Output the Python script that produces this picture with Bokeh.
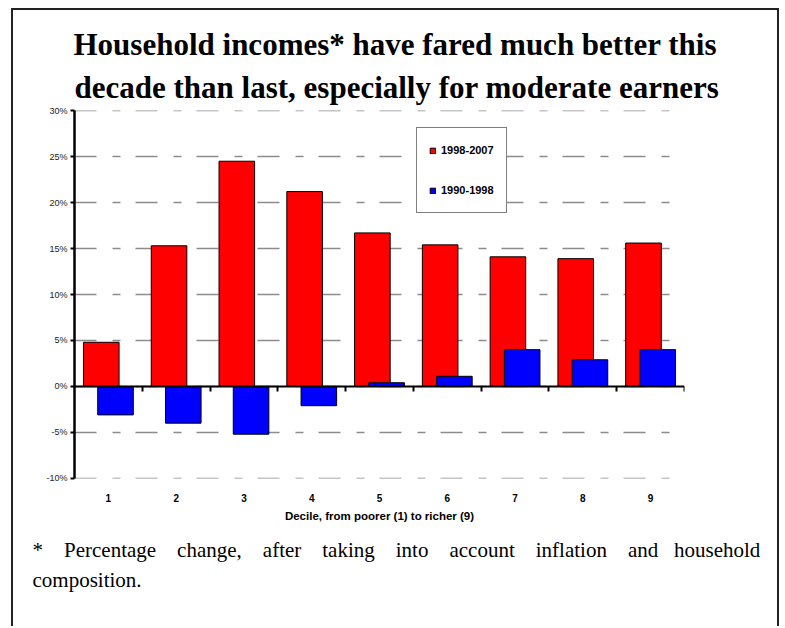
from bokeh.plotting import figure
from bokeh.models import (Range1d, FixedTicker, LinearAxis, Legend, LegendItem, Title,
                          ColumnDataSource, PrintfTickFormatter)
from bokeh.transform import dodge
from bokeh.embed import file_html
from bokeh.resources import INLINE

# Real change in household income by decile (%)
deciles = [1, 2, 3, 4, 5, 6, 7, 8, 9]
decile_labels = ["1", "2", "3", "4", "5", "6", "7", "8", "9"]
change_1998_2007 = [4.8, 15.3, 24.5, 21.2, 16.7, 15.4, 14.1, 13.9, 15.6]
change_1990_1998 = [-3.1, -4.0, -5.2, -2.1, 0.4, 1.1, 4.0, 2.9, 4.0]
series_names = ["1998-2007", "1990-1998"]
y_ticks = [-10, -5, 0, 5, 10, 15, 20, 25, 30]

title_lines = ["Household incomes* have fared much better this",
               "decade than last, especially for moderate earners"]
note_lines = ["* Percentage change, after taking into account inflation and household",
              "composition."]
x_title = "Decile, from poorer (1) to richer (9)"

# page geometry: a framed panel inset from the window edges
PAGE_W, PAGE_H = 785, 628
OX, OY = 13, 10            # canvas origin on the page (margin + border)
W, H = 768, PAGE_H - OY
FL, FR, FT, FB = 74 - OX, 684 - OX, 110 - OY, 478 - OY   # plot frame in canvas pixels

p = figure(width=W, height=H, x_range=Range1d(0.5, 9.5), y_range=Range1d(-10.02, 30.02),
           output_backend="svg", toolbar_location=None,
           min_border_left=FL, min_border_right=W - FR,
           min_border_top=FT, min_border_bottom=H - FB)
p.margin = (8, 2, 0, 11)
p.styles = {"border-left": "2px solid #222222",
            "border-top": "2px solid #222222",
            "border-right": "2px solid #222222"}
p.outline_line_color = None
p.background_fill_color = "white"
p.border_fill_color = "white"

# category labels under the frame
xa = p.xaxis[0]
xa.ticker = FixedTicker(ticks=deciles)
xa.major_label_overrides = {d: s for d, s in zip(deciles, decile_labels)}
xa.axis_line_color = None
xa.major_tick_line_color = None
xa.minor_tick_line_color = None
xa.major_label_standoff = 9
xa.major_label_text_font = "Liberation Sans"
xa.major_label_text_font_style = "bold"
xa.major_label_text_font_size = "10px"
xa.major_label_text_color = "black"
xa.axis_label = x_title
xa.axis_label_text_font = "Liberation Sans"
xa.axis_label_text_font_style = "bold"
xa.axis_label_text_font_size = "11.5px"
xa.axis_label_text_color = "black"
xa.axis_label_standoff = 5

ya = p.yaxis[0]
ya.ticker = FixedTicker(ticks=y_ticks)
ya.formatter = PrintfTickFormatter(format="%d%%")
ya.axis_line_width = 2.5
ya.axis_line_color = "black"
ya.major_tick_out = 4
ya.major_tick_in = 0
ya.major_tick_line_width = 2
ya.minor_tick_line_color = None
ya.major_label_text_font = "Liberation Sans"
ya.major_label_text_font_size = "9px"
ya.major_label_text_color = "#222222"
ya.major_label_standoff = 3

p.xgrid.grid_line_color = None
p.ygrid.ticker = FixedTicker(ticks=y_ticks)
p.ygrid.grid_line_color = "#8c8c8c"
p.ygrid.grid_line_width = 1.5
p.ygrid.grid_line_dash = "22 16 8 15"

src = ColumnDataSource(dict(x=deciles, recent=change_1998_2007, earlier=change_1990_1998))
shift, bar_w = 0.105, 0.525
r_recent = p.vbar(x=dodge("x", -shift, range=p.x_range), top="recent", bottom=0, width=bar_w,
                  source=src, fill_color="#FF0000", line_color="black", line_width=1)
r_earlier = p.vbar(x=dodge("x", shift, range=p.x_range), top="earlier", bottom=0, width=bar_w,
                   source=src, fill_color="#0000FF", line_color="black", line_width=1)

# zero line with category separators
separators = [d + 0.5 for d in deciles]
zero_axis = LinearAxis(fixed_location=0,
                       ticker=FixedTicker(ticks=separators),
                       major_label_overrides={s: "" for s in separators},
                       axis_line_width=2, axis_line_color="black",
                       major_tick_out=5, major_tick_in=0, major_tick_line_width=2,
                       minor_tick_line_color=None)
p.add_layout(zero_axis, "below")

legend = Legend(items=[LegendItem(label=series_names[0], renderers=[r_recent]),
                       LegendItem(label=series_names[1], renderers=[r_earlier])],
                location=(416 - 74, 478 - 213),
                border_line_color="black", border_line_width=1,
                background_fill_color="white", background_fill_alpha=1,
                glyph_width=7, glyph_height=7, label_height=20,
                label_standoff=5, spacing=20, padding=12, margin=0,
                label_text_font="Liberation Sans", label_text_font_style="bold",
                label_text_font_size="11px", label_text_color="black")
p.add_layout(legend, "center")

# headline: second line nearest the frame, first line above it
p.title.visible = False
for line, gap, shift_x in [(title_lines[1], 11, 0), (title_lines[0], 1, -1)]:
    p.add_layout(Title(text=line, align="left", offset=shift_x, standoff=gap,
                       text_font="Liberation Serif", text_font_style="bold",
                       text_font_size="31px", text_color="black"), "above")

# footnote under the axis title; the first line is set justified
words = note_lines[0].split(" ")
gaps = ["\u00a0" * 3 + " "] * (len(words) - 2) + ["\u00a0" * 2 + " "]
justified = words[0] + "".join(g + w for g, w in zip(gaps, words[1:]))
p.add_layout(Title(text=justified + "\n" + note_lines[1], align="left", offset=-42,
                   standoff=22, text_line_height=1.25,
                   text_font="Liberation Serif", text_font_style="normal",
                   text_font_size="21px", text_color="black"), "below")

open("out.html", "w").write(file_html(p, INLINE))
